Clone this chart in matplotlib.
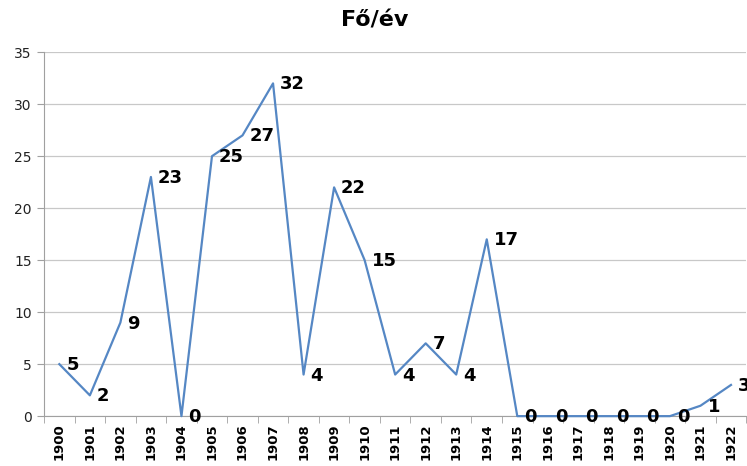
import matplotlib.pyplot as plt

years = [str(y) for y in range(1900, 1923)]
values = [5, 2, 9, 23, 0, 25, 27, 32, 4, 22, 15, 4, 7, 4, 17, 0, 0, 0, 0, 0, 0, 1, 3]
yticks = [0, 5, 10, 15, 20, 25, 30, 35]

fig = plt.figure(figsize=(7.47, 4.66), dpi=100)
ax = fig.add_axes([0.059, 0.107, 0.94, 0.781])

x = list(range(len(years)))
ax.plot(x, values, color='#5587C4', lw=1.6, clip_on=False, zorder=3)

for xi, v in zip(x, values):
    ax.annotate(str(v), (xi, v), xytext=(7, -1), textcoords='offset pixels',
                ha='left', va='center', fontsize=13, fontweight='bold',
                color='black', annotation_clip=False, zorder=4)

ax.set_xlim(-0.5, len(years) - 0.5)
ax.set_ylim(0, 35)
ax.set_yticks(yticks)
ax.yaxis.grid(True, color='#c8c8c8', lw=0.9)
ax.set_axisbelow(True)

ax.set_xticks(x)
ax.set_xticklabels(years, rotation=90, fontsize=9.5, fontweight='bold')
ax.set_xticks([i + 0.5 for i in range(-1, len(years))], minor=True)
ax.tick_params(axis='x', which='major', length=0, pad=5)
ax.tick_params(axis='x', which='minor', length=5, color='#a0a0a0')
ax.tick_params(axis='y', length=5, color='#a0a0a0', labelsize=10, pad=4, labelcolor='#222222')

for s in ['top', 'right']:
    ax.spines[s].set_visible(False)
ax.spines['left'].set_color('#a0a0a0')
ax.spines['bottom'].set_color('#a0a0a0')

fig.text(0.502, 0.955, 'Fő/év', ha='center', va='center', fontsize=16, fontweight='bold')

fig.savefig('out.png', dpi=100)
